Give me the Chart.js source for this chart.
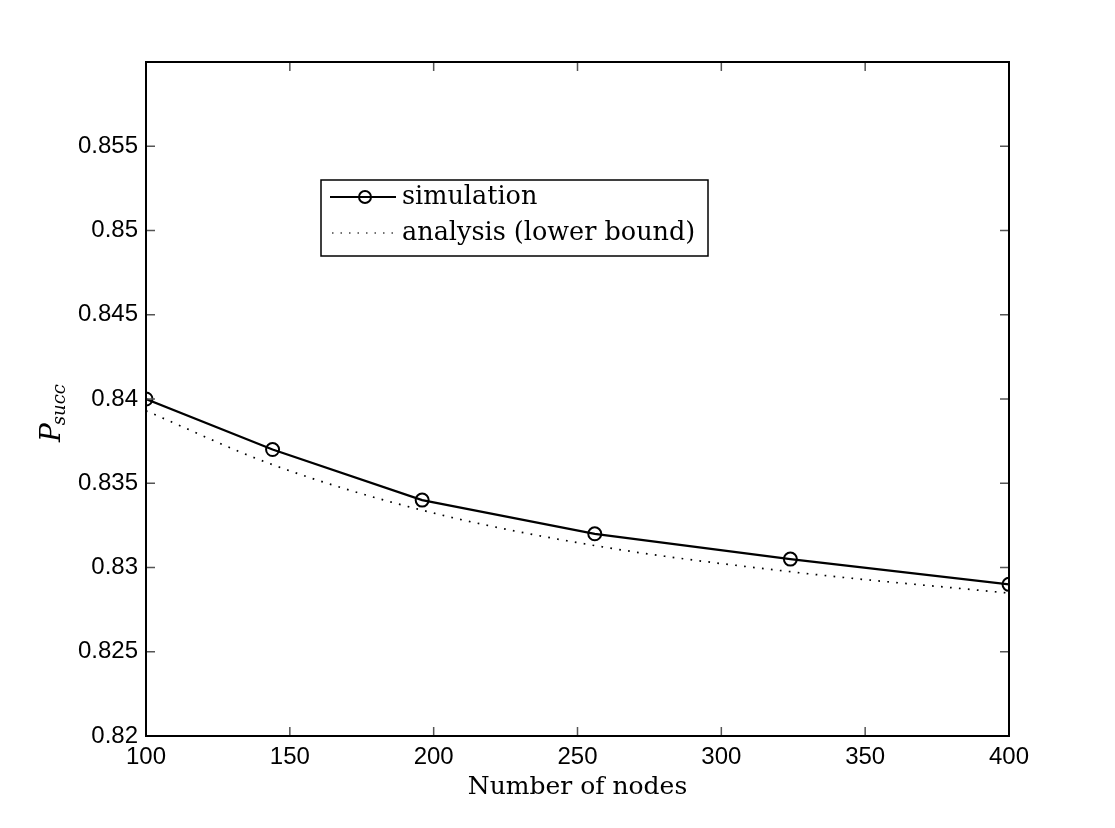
<!DOCTYPE html>
<html>
<head>
<meta charset="utf-8">
<script src="https://cdn.jsdelivr.net/npm/chart.js@4"></script>
<style>
html,body{margin:0;padding:0;background:#fff;}
#wrap{width:1115px;height:828px;}
</style>
</head>
<body>
<div id="wrap"><canvas id="c" width="1115" height="828"></canvas></div>
<script>
const nodes = [100, 144, 196, 256, 324, 400];
const simulation = [0.840, 0.837, 0.834, 0.832, 0.8305, 0.829];
const analysis = [0.8393, 0.8361, 0.8334, 0.8313, 0.82975, 0.82848];
const seriesLabels = ['simulation', 'analysis (lower bound)'];
const xTicks = [100, 150, 200, 250, 300, 350, 400];
const yTicks = [0.82, 0.825, 0.83, 0.835, 0.84, 0.845, 0.85, 0.855];
const xTitle = 'Number of nodes';

const frame = {
  id: 'frame',
  afterDatasetsDraw(chart) {
    const {ctx, chartArea: a, scales} = chart;
    ctx.save();
    // inward ticks
    ctx.strokeStyle = '#555';
    ctx.lineWidth = 1.5;
    const tl = 9;
    ctx.beginPath();
    xTicks.forEach(v => {
      const x = scales.x.getPixelForValue(v);
      ctx.moveTo(x, a.bottom); ctx.lineTo(x, a.bottom - tl);
      ctx.moveTo(x, a.top); ctx.lineTo(x, a.top + tl);
    });
    yTicks.concat([0.86]).forEach(v => {
      const y = scales.y.getPixelForValue(v);
      ctx.moveTo(a.left, y); ctx.lineTo(a.left + tl, y);
      ctx.moveTo(a.right, y); ctx.lineTo(a.right - tl, y);
    });
    ctx.stroke();
    // box
    ctx.strokeStyle = '#000';
    ctx.lineWidth = 2;
    ctx.strokeRect(a.left, a.top, a.right - a.left, a.bottom - a.top);

    // legend
    const lx = 321, ly = 180, lw = 387, lh = 76;
    ctx.fillStyle = '#fff';
    ctx.fillRect(lx, ly, lw, lh);
    ctx.strokeStyle = '#000';
    ctx.lineWidth = 1.5;
    ctx.strokeRect(lx, ly, lw, lh);
    ctx.font = '25.5px "DejaVu Serif"';
    ctx.fillStyle = '#000';
    ctx.textBaseline = 'middle';
    ctx.textAlign = 'left';
    const ds = chart.data.datasets;
    // row 1
    let ry = 197;
    ctx.strokeStyle = '#000';
    ctx.lineWidth = 2;
    ctx.setLineDash([]);
    ctx.beginPath(); ctx.moveTo(330, ry); ctx.lineTo(396, ry); ctx.stroke();
    ctx.beginPath(); ctx.arc(365, ry, 6, 0, Math.PI * 2); ctx.stroke();
    ctx.fillText(ds[0].label, 402, ry);
    // row 2
    ry = 233;
    ctx.strokeStyle = '#444';
    ctx.lineWidth = 1.4;
    ctx.setLineDash([1.5, 7]);
    ctx.beginPath(); ctx.moveTo(332, ry); ctx.lineTo(396, ry); ctx.stroke();
    ctx.setLineDash([]);
    ctx.fillText(ds[1].label, 402, ry);

    // y title P_succ
    ctx.translate(52, 410);
    ctx.rotate(-Math.PI / 2);
    ctx.textAlign = 'left';
    ctx.textBaseline = 'alphabetic';
    ctx.font = 'italic 28px "DejaVu Serif"';
    const pw = ctx.measureText('P').width;
    ctx.fillText('P', -32, 8);
    ctx.font = 'italic 18px "DejaVu Serif"';
    ctx.fillText('succ', -32 + pw - 2, 13);
    ctx.restore();
  }
};

new Chart(document.getElementById('c'), {
  type: 'line',
  data: {
    datasets: [
      {
        label: seriesLabels[0],
        data: nodes.map((n, i) => ({x: n, y: simulation[i]})),
        borderColor: '#000',
        borderWidth: 2.2,
        pointRadius: 6.5,
        pointBorderWidth: 2,
        pointBorderColor: '#000',
        pointBackgroundColor: 'rgba(0,0,0,0)',
        tension: 0
      },
      {
        label: seriesLabels[1],
        data: nodes.map((n, i) => ({x: n, y: analysis[i]})),
        borderColor: '#000',
        borderWidth: 1.7,
        borderDash: [1.7, 7.3],
        pointRadius: 0,
        cubicInterpolationMode: 'monotone'
      }
    ]
  },
  options: {
    responsive: false,
    animation: false,
    layout: {padding: {top: 62, right: 106, left: 0, bottom: 0}},
    plugins: {legend: {display: false}, tooltip: {enabled: false}},
    scales: {
      x: {
        type: 'linear', min: 100, max: 400,
        afterBuildTicks: s => { s.ticks = xTicks.map(v => ({value: v})); },
        afterFit: s => { s.height = 92; },
        grid: {display: false, drawTicks: false},
        border: {display: false},
        ticks: {
          padding: 7, color: '#000', maxRotation: 0,
          font: {family: '"Liberation Sans"', size: 24},
          callback: v => String(v)
        },
        title: {
          display: true, text: xTitle, color: '#000',
          font: {family: '"DejaVu Serif"', size: 25},
          padding: {top: 0, bottom: 26}
        }
      },
      y: {
        type: 'linear', min: 0.82, max: 0.86,
        afterBuildTicks: s => { s.ticks = yTicks.map(v => ({value: v})); },
        afterFit: s => { s.width = 146; },
        grid: {display: false, drawTicks: false},
        border: {display: false},
        ticks: {
          padding: 8, color: '#000',
          font: {family: '"Liberation Sans"', size: 24},
          callback: v => String(parseFloat(v.toFixed(3)))
        }
      }
    }
  },
  plugins: [frame]
});
</script>
</body>
</html>
